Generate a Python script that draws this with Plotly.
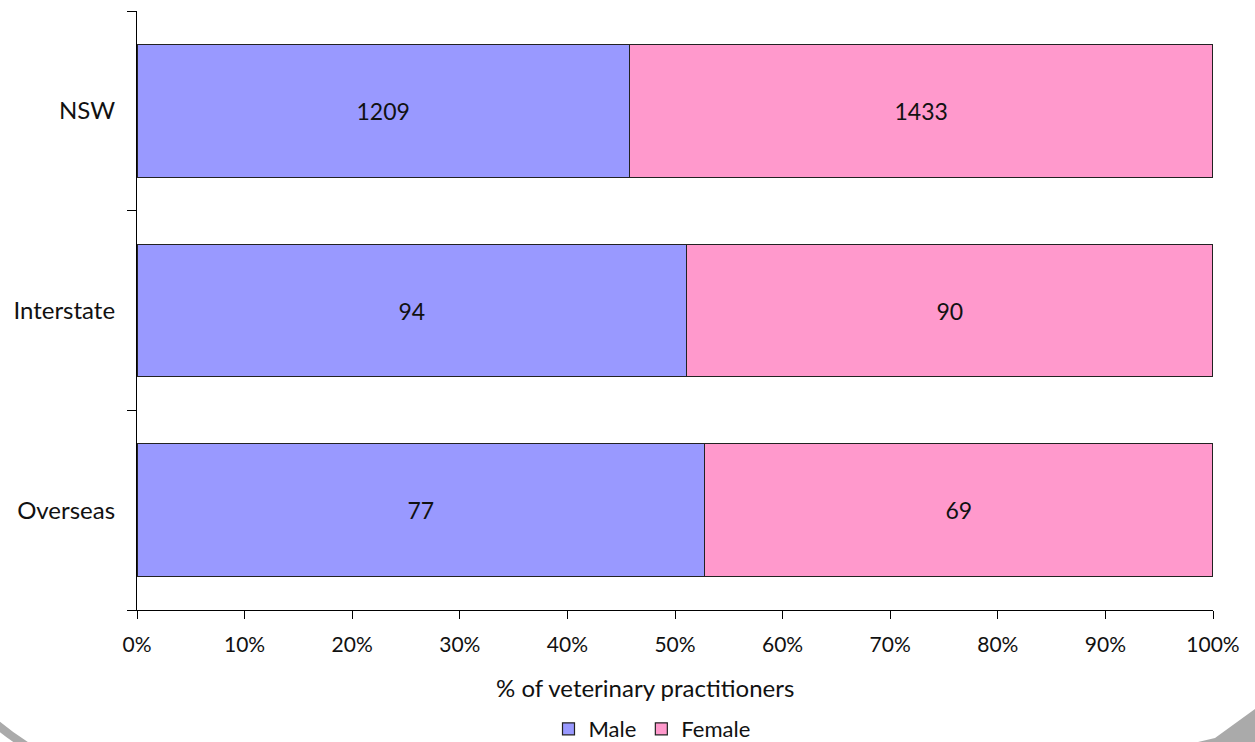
import plotly.graph_objects as go

# Origin of veterinary practitioners, split by sex
regions = ["NSW", "Interstate", "Overseas"]
male = [1209, 94, 77]
female = [1433, 90, 69]
x_title = "% of veterinary practitioners"

totals = [m + f for m, f in zip(male, female)]
male_share = [m / t for m, t in zip(male, totals)]
female_share = [f / t for f, t in zip(female, totals)]

W, H = 1255, 742
ML, MR, MT, MB = 137, 42, 11, 132
FONT = "Lato"


def px(x):
    return (x - ML) / (W - ML - MR)


def py(y):
    return (H - MB - y) / (H - MT - MB)


fig = go.Figure()
fig.add_trace(go.Bar(
    name="Male", y=regions, x=male_share, orientation="h",
    text=male, texttemplate="%{text}", textposition="inside",
    insidetextanchor="middle", textangle=0,
    textfont=dict(family=FONT, size=23, color="#111111"),
    marker=dict(color="#9999FF", line=dict(color="#222222", width=1.2)),
))
fig.add_trace(go.Bar(
    name="Female", y=regions, x=female_share, orientation="h",
    text=female, texttemplate="%{text}", textposition="inside",
    insidetextanchor="middle", textangle=0,
    textfont=dict(family=FONT, size=23, color="#111111"),
    marker=dict(color="#FF99CC", line=dict(color="#222222", width=1.2)),
))

# grey slide frame peeking in at the bottom corners
shapes = [
    dict(type="path", xref="paper", yref="paper",
         path=(f"M {px(-6)} {py(722)} Q {px(10)} {py(736)} {px(30)} {py(748)}"),
         line=dict(color="#AAAAAA", width=8), layer="above"),
    dict(type="path", xref="paper", yref="paper",
         path=(f"M {px(1198)} {py(742)} L {px(1215)} {py(738)} L {px(1255)} {py(709)} "
               f"L {px(1255)} {py(742)} Z"),
         fillcolor="#AAAAAA", line=dict(width=0), layer="above"),
]

# x-axis title sits slightly left of the plot centre
annotations = [
    dict(text=x_title, xref="paper", yref="paper", x=px(645), y=py(687),
         xanchor="center", yanchor="middle", showarrow=False,
         font=dict(family=FONT, size=24, color="#111111")),
]

fig.update_layout(
    width=W, height=H,
    margin=dict(l=ML, r=MR, t=MT, b=MB, autoexpand=False),
    barmode="stack", bargap=0.335,
    plot_bgcolor="white", paper_bgcolor="white",
    font=dict(family=FONT, size=21, color="#111111"),
    showlegend=True,
    legend=dict(orientation="h", xref="container", yref="container",
                x=652 / W, xanchor="center", y=1 - 729 / H, yanchor="middle",
                font=dict(family=FONT, size=22), traceorder="normal",
                tracegroupgap=0, itemwidth=30),
    shapes=shapes,
    annotations=annotations,
    xaxis=dict(range=[0, 1], dtick=0.1, tickformat=".0%", showgrid=False,
               zeroline=False, showline=True, linecolor="#000000", linewidth=1.2,
               ticks="outside", ticklen=8, tickcolor="#000000", tickwidth=1.2,
               ticklabelstandoff=8, automargin=False,
               tickfont=dict(family=FONT, size=21)),
    yaxis=dict(categoryorder="array", categoryarray=regions[::-1],
               range=[-0.5, 2.5], showgrid=False, zeroline=False,
               showline=True, linecolor="#000000", linewidth=1.2,
               ticks="outside", tickson="boundaries", ticklen=9,
               tickcolor="#000000", tickwidth=1.2, ticklabelstandoff=16,
               automargin=False, tickfont=dict(family=FONT, size=24)),
)

fig.write_html("out.html")
